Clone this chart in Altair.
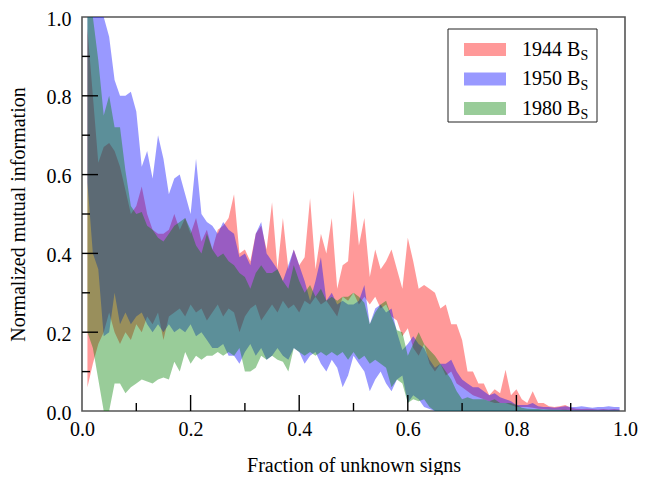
import altair as alt
import pandas as pd

# ---------------- data ----------------
x_vals = [round(0.01 * i, 2) for i in range(1, 100)]

r_hi = [0.97, 0.80, 0.63, 0.67, 0.68, 0.66, 0.62, 0.56, 0.50, 0.52,
        0.57, 0.50, 0.46, 0.45, 0.45, 0.46, 0.50, 0.46, 0.49, 0.45,
        0.49, 0.43, 0.46, 0.41, 0.46, 0.47, 0.49, 0.55, 0.40, 0.41,
        0.38, 0.45, 0.47, 0.41, 0.53, 0.36, 0.49, 0.36, 0.41, 0.37,
        0.39, 0.54, 0.36, 0.45, 0.40, 0.49, 0.31, 0.37, 0.38, 0.56,
        0.42, 0.49, 0.34, 0.41, 0.36, 0.38, 0.41, 0.36, 0.31, 0.44,
        0.38, 0.31, 0.32, 0.31, 0.30, 0.26, 0.27, 0.22, 0.22, 0.18,
        0.10, 0.10, 0.07, 0.07, 0.04, 0.055, 0.045, 0.105, 0.04, 0.055,
        0.03, 0.02, 0.05, 0.02, 0.02, 0.012, 0.01, 0.012, 0.015, 0.008,
        0.006, 0.005, 0.006, 0.005, 0.004, 0.005, 0.004, 0.005, 0.004]
r_lo = [0.06, 0.12, 0.17, 0.20, 0.25, 0.20, 0.17, 0.20, 0.18, 0.22,
        0.20, 0.24, 0.22, 0.25, 0.18, 0.24, 0.25, 0.26, 0.24, 0.27,
        0.25, 0.26, 0.23, 0.25, 0.27, 0.24, 0.26, 0.25, 0.20, 0.24,
        0.26, 0.27, 0.23, 0.25, 0.27, 0.25, 0.28, 0.26, 0.27, 0.25,
        0.28, 0.27, 0.29, 0.27, 0.28, 0.26, 0.24, 0.29, 0.28, 0.30,
        0.27, 0.29, 0.27, 0.29, 0.26, 0.27, 0.24, 0.23, 0.19, 0.21,
        0.16, 0.14, 0.17, 0.12, 0.10, 0.12, 0.09, 0.10, 0.07, 0.06,
        0.05, 0.04, 0.035, 0.03, 0.025, 0.02, 0.02, 0.02, 0.015, 0.01,
        0.01, 0.01, 0.008, 0.006, 0.005, 0.004, 0.003, 0.003, 0.002, 0.002,
        0.001, 0.001, 0.001, 0.001, 0.001, 0.001, 0.001, 0.001, 0.001]

b_hi = [1.0, 1.0, 1.0, 1.0, 0.95, 0.84, 0.80, 0.80, 0.81, 0.76,
        0.62, 0.66, 0.59, 0.70, 0.64, 0.55, 0.59, 0.60, 0.55, 0.50,
        0.64, 0.50, 0.48, 0.47, 0.45, 0.48, 0.46, 0.45, 0.39, 0.40,
        0.37, 0.45, 0.48, 0.40, 0.38, 0.36, 0.33, 0.37, 0.41, 0.37,
        0.33, 0.28, 0.33, 0.39, 0.28, 0.30, 0.27, 0.28, 0.27, 0.27,
        0.28, 0.32, 0.22, 0.26, 0.27, 0.25, 0.26, 0.20, 0.155, 0.17,
        0.19, 0.17, 0.16, 0.13, 0.11, 0.12, 0.12, 0.13, 0.10, 0.08,
        0.07, 0.06, 0.06, 0.05, 0.04, 0.045, 0.035, 0.03, 0.025, 0.015,
        0.015, 0.015, 0.02, 0.012, 0.01, 0.01, 0.008, 0.01, 0.012, 0.01,
        0.01, 0.012, 0.01, 0.008, 0.01, 0.01, 0.012, 0.01, 0.01]
b_lo = [0.58, 0.40, 0.36, 0.19, 0.20, 0.30, 0.22, 0.25, 0.22, 0.24,
        0.25, 0.22, 0.20, 0.22, 0.20, 0.22, 0.20, 0.21, 0.20, 0.22,
        0.19, 0.20, 0.18, 0.16, 0.16, 0.17, 0.14, 0.14, 0.12, 0.15,
        0.17, 0.14, 0.16, 0.13, 0.14, 0.16, 0.14, 0.13, 0.16, 0.15,
        0.12, 0.14, 0.15, 0.12, 0.10, 0.13, 0.11, 0.06, 0.09, 0.14,
        0.12, 0.10, 0.05, 0.08, 0.10, 0.07, 0.05, 0.08, 0.09, 0.02,
        0.04, 0.03, 0.01, 0.005, 0.0, 0.0, 0.0, 0.0, 0.0, 0.0,
        0.0, 0.0, 0.0, 0.0, 0.0, 0.0, 0.0, 0.0, 0.0, 0.0,
        0.0, 0.0, 0.0, 0.0, 0.0, 0.0, 0.0, 0.0, 0.0, 0.0,
        0.0, 0.0, 0.0, 0.0, 0.0, 0.0, 0.0, 0.0, 0.0]

g_hi = [1.0, 1.0, 0.89, 0.75, 0.80, 0.72, 0.72, 0.61, 0.52, 0.50,
        0.505, 0.47, 0.46, 0.44, 0.43, 0.45, 0.47, 0.48, 0.49, 0.46,
        0.42, 0.40, 0.45, 0.41, 0.39, 0.40, 0.38, 0.37, 0.35, 0.34,
        0.31, 0.35, 0.37, 0.35, 0.35, 0.36, 0.33, 0.31, 0.37, 0.33,
        0.30, 0.32, 0.29, 0.31, 0.28, 0.29, 0.28, 0.29, 0.29, 0.30,
        0.29, 0.275, 0.22, 0.25, 0.27, 0.28, 0.24, 0.205, 0.20, 0.14,
        0.17, 0.20, 0.17, 0.155, 0.14, 0.12, 0.10, 0.08, 0.05, 0.03,
        0.035, 0.03, 0.03, 0.03, 0.025, 0.03, 0.02, 0.02, 0.02, 0.015,
        0.008, 0.006, 0.005, 0.005, 0.004, 0.004, 0.003, 0.003, 0.003, 0.002,
        0.002, 0.002, 0.002, 0.002, 0.002, 0.002, 0.002, 0.002, 0.002]
g_lo = [0.20, 0.16, 0.08, 0.0, 0.0, 0.07, 0.07, 0.045, 0.06, 0.07,
        0.08, 0.075, 0.07, 0.08, 0.085, 0.08, 0.125, 0.10, 0.15, 0.12,
        0.14, 0.13, 0.14, 0.14, 0.15, 0.14, 0.15, 0.14, 0.16, 0.10,
        0.10, 0.11, 0.14, 0.13, 0.14, 0.13, 0.125, 0.10, 0.16, 0.15,
        0.14, 0.15, 0.14, 0.15, 0.14, 0.15, 0.14, 0.15, 0.13, 0.15,
        0.13, 0.14, 0.12, 0.13, 0.12, 0.11, 0.06, 0.08, 0.07, 0.02,
        0.03, 0.025, 0.03, 0.01, 0.0, 0.0, 0.0, 0.0, 0.0, 0.0,
        0.0, 0.0, 0.0, 0.0, 0.0, 0.0, 0.0, 0.0, 0.0, 0.0,
        0.0, 0.0, 0.0, 0.0, 0.0, 0.0, 0.0, 0.0, 0.0, 0.0,
        0.0, 0.0, 0.0, 0.0, 0.0, 0.0, 0.0, 0.0, 0.0]

series_names = ["1944 B", "1950 B", "1980 B"]
series_sub = "S"
series_colors = ["#ff0000", "#0000ff", "#008000"]
tick_labels = [0.0, 0.2, 0.4, 0.6, 0.8, 1.0]
major_ticks = [0.2, 0.4, 0.6, 0.8]
minor_ticks = [0.1, 0.3, 0.5, 0.7, 0.9]

# ---------------- chart ----------------
FONT = "Liberation Serif"
W, H = 543, 394
xs = alt.Scale(domain=[0, 1], nice=False, zero=False)
ys = alt.Scale(domain=[0, 1], nice=False, zero=False)

common = dict(values=tick_labels, format=".1f", ticks=False, tickSize=0,
              domain=False, grid=False, labelFont=FONT, labelFontSize=20,
              labelColor="black", labelFlush=False, titleFont=FONT,
              titleFontSize=20, titleFontWeight="normal", titleColor="black",
              titleAlign="center", titleBaseline="middle")
x_axis = alt.Axis(title="Fraction of unknown signs", labelPadding=8,
                  titleX=W / 2, titleY=54, **common)
y_axis = alt.Axis(title="Normalized mutual information", labelPadding=11,
                  labelOffset=2, titleX=-64, titleY=H / 2, titleAngle=-90,
                  **common)

layers = []
bands = [(r_lo, r_hi), (b_lo, b_hi), (g_lo, g_hi)]
for (lo, hi), col in zip(bands, series_colors):
    df = pd.DataFrame({"x": x_vals, "lo": lo, "hi": hi})
    layers.append(
        alt.Chart(df).mark_area(color=col, opacity=0.4, interpolate="linear",
                                clip=True).encode(
            x=alt.X("x:Q", scale=xs, axis=x_axis),
            y=alt.Y("hi:Q", scale=ys, axis=y_axis),
            y2="lo:Q",
        )
    )

# inward ticks (left and bottom)
for vals, length in ((major_ticks, 16), (minor_ticks, 8)):
    tdf = pd.DataFrame({"v": vals})
    layers.append(
        alt.Chart(tdf).mark_rule(color="black", strokeWidth=1.4).encode(
            x=alt.X("v:Q", scale=xs, axis=x_axis),
            y=alt.value(H), y2=alt.value(H - length)))
    layers.append(
        alt.Chart(tdf).mark_rule(color="black", strokeWidth=1.4).encode(
            y=alt.Y("v:Q", scale=ys, axis=y_axis),
            x=alt.value(0), x2=alt.value(length)))

# legend
one = pd.DataFrame({"k": [0]})
layers.append(
    alt.Chart(one).mark_rect(fill="white", stroke="#222", strokeWidth=1).encode(
        x=alt.value(366), x2=alt.value(515), y=alt.value(12), y2=alt.value(105)))
for i, (name, col) in enumerate(zip(series_names, series_colors)):
    cy = 32.5 + 29.5 * i
    layers.append(
        alt.Chart(one).mark_rect(color=col, opacity=0.4).encode(
            x=alt.value(382), x2=alt.value(424),
            y=alt.value(cy - 6.5), y2=alt.value(cy + 6.5)))
    layers.append(
        alt.Chart(one).mark_text(text=name, font=FONT, fontSize=20, align="left",
                                 baseline="alphabetic", color="black").encode(
            x=alt.value(440), y=alt.value(cy + 6)))
    layers.append(
        alt.Chart(one).mark_text(text=series_sub, font=FONT, fontSize=14, align="left",
                                 baseline="alphabetic", color="black").encode(
            x=alt.value(498.5), y=alt.value(cy + 10.5)))

chart = alt.layer(*layers).properties(
    width=W, height=H,
    padding={"left": 74, "top": 9, "right": 17, "bottom": 64},
    autosize=alt.AutoSizeParams(type="none"),
).configure_view(stroke="#555", strokeWidth=1.6)

chart.save("out.html", embed_options={"renderer": "svg", "actions": False})
